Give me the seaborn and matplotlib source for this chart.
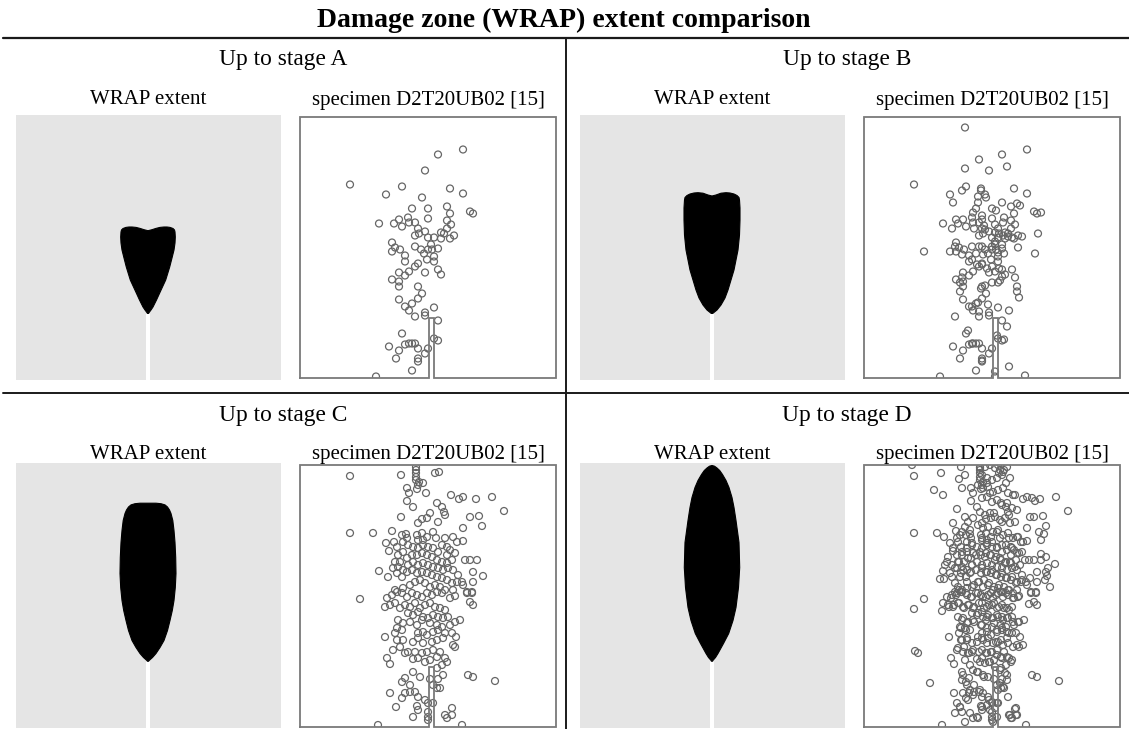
import numpy as np
import pandas as pd
import matplotlib
matplotlib.use("Agg")
import matplotlib.pyplot as plt
from matplotlib.lines import Line2D
import seaborn as sns

# ---------------- data ----------------
stages = ["A", "B", "C", "D"]
main_title = "Damage zone (WRAP) extent comparison"
stage_titles = ["Up to stage A", "Up to stage B", "Up to stage C", "Up to stage D"]
left_sub = "WRAP extent"
right_sub = "specimen D2T20UB02 [15]"

# WRAP extent outlines (panel units: x 0..265, y 0..264 from bottom), crack from y=0 to tip
crack_tip = 66
wrap_center = 132
wrapA_y = [66, 70, 73, 80, 87, 100, 113, 122, 130, 137, 143, 148]
wrapA_hw = [0, 3, 5, 8.5, 11.7, 17.7, 21.7, 24, 26, 27, 27.3, 27]
wrapA_cap_dx = [26.5, 25, 22, 19, 16, 12, 8, 4, 0, -4, -8, -12, -16, -19, -22, -25, -26.5]
wrapA_cap_y = [150, 151.5, 152.6, 153, 153, 152.6, 151.6, 150.3, 149.3, 150.3, 151.6, 152.6, 153, 153, 152.6, 151.5, 150]

wrapB_y = [66, 70, 75, 82, 90, 100, 110, 120, 130, 145, 160, 172, 180]
wrapB_hw = [0, 5, 9, 13, 16, 19, 22, 24, 26, 27.5, 28, 28, 27.5]
wrapB_cap_dx = [27, 25, 22, 18, 14, 9, 4, 0, -4, -9, -14, -18, -22, -25, -27]
wrapB_cap_y = [182.5, 184.5, 186, 187, 187.3, 186.8, 185, 184, 185, 186.8, 187.3, 187, 186, 184.5, 182.5]

wrapC_y = [66, 70, 74, 80, 87, 97, 107, 117, 127, 140, 154, 170, 185, 197, 207, 214]
wrapC_hw = [0, 4.5, 8, 12, 16, 19.5, 22, 24.3, 26, 27.3, 28, 27.7, 27, 26, 24.8, 23]
wrapC_cap_dx = [21.5, 19.5, 17, 13, 8, 0, -8, -13, -17, -19.5, -21.5]
wrapC_cap_y = [217.5, 220.5, 222.6, 223.8, 224.3, 224.3, 224.3, 223.8, 222.6, 220.5, 217.5]

wrapD_y = [66, 70, 74, 84, 94, 107, 120, 140, 160, 185, 207, 220, 230, 240, 247, 253, 257]
wrapD_hw = [0, 3.5, 6, 11.5, 16.7, 21, 24, 26.5, 27.7, 27, 24, 22, 20, 17, 14, 10.5, 7.7]
wrapD_cap_dx = [5, 2.5, 0, -2.5, -5]
wrapD_cap_y = [259.5, 261.3, 262, 261.3, 259.5]

# Specimen box (panel units: x 0..256, y 0..262 from bottom) with notch
box_w, box_h = 256, 262
notch_x = [129.3, 134.0]
notch_h = 60

# Damage points: stage A, extra points up to stage B, stage C, extra points up to stage D
ptsA_x = [163, 138, 125, 50, 102, 86, 150, 163, 122, 147, 112, 128, 150, 170, 173, 79, 94, 99, 102, 108,
          109, 115, 128, 147, 151, 147, 141, 144, 154, 150, 118, 119, 115, 125, 128, 134, 141, 92, 95, 92,
          100, 105, 105, 115, 121, 124, 128, 131, 132, 138, 134, 127, 134, 118, 115, 109, 105, 99, 125, 138,
          141, 92, 99, 99, 118, 122, 118, 99, 112, 105, 109, 115, 125, 125, 134, 138, 102, 89, 99, 105,
          109, 112, 115, 118, 128, 125, 96, 118, 118, 112, 134, 138, 76]
ptsA_y = [229, 224, 208, 194, 192, 184, 190, 185, 181, 172, 170, 170, 165, 167, 165, 155, 155, 159, 152, 161,
          156, 156, 160, 158, 154, 150, 146, 145, 143, 140, 150, 145, 143, 147, 141, 141, 140, 136, 131, 127,
          129, 123, 117, 132, 129, 125, 129, 134, 129, 130, 122, 119, 117, 115, 112, 107, 103, 106, 106, 109,
          104, 99, 97, 92, 92, 85, 80, 79, 75, 72, 68, 62, 66, 63, 71, 58, 45, 32, 28, 34,
          35, 35, 35, 30, 30, 25, 20, 20, 17, 8, 40, 38, 2]

ptsB_x = [101, 115, 101, 143, 98, 117, 117, 121, 89, 114, 114, 138, 153, 156, 132, 109, 118, 177, 92, 140,
          88, 118, 120, 131, 134, 139, 110, 121, 131, 135, 139, 144, 148, 158, 174, 154, 171, 60, 86, 91,
          98, 108, 112, 118, 119, 128, 131, 134, 138, 140, 108, 113, 118, 123, 128, 131, 135, 148, 151, 138,
          136, 134, 128, 121, 117, 98, 96, 96, 153, 153, 155, 108, 114, 115, 124, 145, 91, 143, 104, 133,
          140, 108, 118, 145, 131, 131, 161]
ptsB_y = [251, 219, 210, 212, 188, 190, 188, 184, 176, 182, 176, 176, 175, 173, 168, 166, 163, 166, 159, 161,
          150, 159, 153, 154, 150, 156, 150, 149, 146, 145, 143, 142, 141, 142, 145, 131, 125, 127, 127, 132,
          124, 132, 125, 132, 124, 132, 137, 126, 134, 125, 119, 114, 114, 110, 112, 107, 110, 109, 101, 102,
          98, 96, 96, 93, 90, 101, 96, 87, 92, 87, 81, 72, 76, 67, 74, 68, 62, 52, 48, 43,
          39, 35, 18, 12, 7, 2, 3]

ptsC_x = [50, 101, 116, 116, 116, 116, 116, 119, 123, 118, 135, 139, 107, 109, 117, 126, 107, 113, 151, 159,
          163, 176, 192, 204, 137, 142, 144, 145, 130, 127, 122, 118, 101, 170, 179, 163, 182, 138, 50, 73,
          92, 102, 106, 107, 103, 86, 89, 94, 97, 117, 122, 118, 123, 127, 133, 136, 145, 153, 157, 163,
          142, 147, 150, 155, 147, 138, 133, 128, 123, 118, 113, 108, 103, 98, 95, 100, 107, 112, 117, 122,
          127, 132, 137, 142, 147, 152, 165, 170, 177, 79, 88, 93, 98, 103, 108, 113, 118, 123, 128, 133,
          138, 143, 148, 153, 158, 173, 183, 173, 97, 102, 107, 112, 117, 122, 127, 132, 137, 142, 147, 152,
          157, 162, 163, 95, 103, 110, 115, 120, 125, 130, 135, 140, 145, 153, 167, 172,
          60, 87, 92, 97, 102, 107, 112, 117, 122, 127, 132, 137, 142, 150, 155, 167, 172, 170, 173, 85,
          90, 95, 100, 105, 110, 115, 120, 125, 130, 135, 140, 145, 108, 113, 118, 123, 128, 133, 138, 143,
          148, 160, 155, 98, 103, 110, 117, 122, 130, 137, 142, 150, 97, 102, 95, 118, 123, 127, 133, 138,
          145, 152, 156, 85, 97, 103, 113, 118, 123, 132, 137, 143, 153, 155, 100, 93, 105, 108, 115, 122,
          127, 133, 140, 87, 90, 113, 118, 125, 130, 137, 145, 147, 142, 137, 113, 120, 105, 102, 110, 130,
          138, 143, 168, 173, 195, 133, 137, 140, 90, 102, 105, 110, 115, 118, 125, 128, 133, 96, 117, 118,
          113, 128, 128, 128, 145, 152, 152, 147, 78, 162]
ptsC_y = [251, 252, 260, 257, 254, 250, 247, 245, 244, 242, 254, 255, 239, 234, 238, 234, 226, 220, 232, 228,
          230, 228, 230, 216, 224, 220, 215, 212, 214, 209, 208, 204, 210, 210, 211, 199, 201, 205, 194, 194,
          196, 192, 193, 189, 185, 184, 176, 185, 180, 192, 194, 187, 187, 190, 195, 189, 189, 190, 185, 186,
          182, 180, 177, 174, 172, 175, 179, 180, 182, 179, 180, 182, 175, 172, 165, 165, 169, 172, 172, 174,
          172, 170, 167, 165, 164, 167, 167, 167, 167, 156, 150, 159, 160, 157, 162, 165, 162, 164, 162, 160,
          159, 157, 159, 157, 152, 155, 151, 145, 154, 150, 155, 157, 154, 155, 154, 152, 150, 149, 147, 144,
          145, 145, 142, 137, 139, 142, 145, 147, 144, 140, 142, 140, 137, 137, 135, 135,
          128, 129, 132, 135, 134, 130, 134, 132, 130, 134, 132, 135, 134, 129, 131, 134, 134, 125, 122, 120,
          122, 124, 119, 122, 120, 124, 119, 122, 124, 120, 119, 117, 114, 112, 115, 110, 109, 112, 110, 109,
          110, 107, 105, 107, 104, 105, 102, 107, 104, 102, 100, 102, 99, 97, 94, 94, 95, 92, 95, 97,
          94, 94, 90, 90, 87, 87, 85, 89, 84, 85, 87, 89, 82, 80, 80, 77, 74, 75, 75, 74,
          75, 77, 75, 69, 63, 68, 69, 65, 67, 70, 69, 65, 62, 59, 55, 50, 49, 45, 42, 48,
          48, 52, 52, 50, 46, 42, 39, 39, 34, 29, 34, 35, 35, 30, 27, 24, 24, 20, 21, 17,
          10, 15, 10, 7, 12, 19, 12, 9, 2, 2]

ptsD_x = [48, 77, 97, 95, 70, 79, 98, 93, 89, 80, 84, 83, 81, 80, 76, 91, 94, 91,
          104, 109, 101, 106, 96, 108, 103, 98, 109, 104, 94, 108, 99, 106, 96, 103, 108, 98, 91, 86, 88, 93,
          89, 93, 98,
          168, 171, 166, 175, 180, 177, 161, 177, 182, 191, 184, 182, 166, 181, 186, 142, 146, 140, 143, 134,
          116, 121, 126, 131, 136, 118, 123, 128, 133, 138, 114, 119, 124, 129, 134, 139, 144, 149, 118, 123,
          128, 133, 138, 143, 148, 153, 116, 121, 126, 131, 136, 141, 146, 151, 114, 119, 124, 129, 134, 139,
          144, 149, 154, 159, 118, 123, 128, 133, 138, 143, 148, 153, 158, 116, 121, 126, 131, 136, 141, 146,
          151, 156, 118, 123, 128, 133, 138, 143, 148, 153, 158, 114, 119, 124, 129, 134, 139, 144, 149,
          50, 78, 51, 54, 66, 98, 99, 93, 96,
          83, 88, 93, 98, 103, 108, 79, 84, 89, 94, 99, 104, 109, 94, 99, 104, 109, 96, 101, 106,
          98, 103, 108, 94, 99, 104, 109, 101, 106, 109, 98, 103, 106, 109, 99, 104, 91, 98, 106, 109, 101,
          144, 146, 151, 153, 148, 165, 154, 159,
          114, 119, 124, 129, 134, 139, 144, 149, 154, 118, 123, 128, 133, 138, 143, 148, 114, 119, 124, 129,
          134, 139, 144, 149, 118, 123, 128, 133, 138, 143, 148, 114, 119, 124, 129, 134, 139, 144, 149, 118,
          123, 128, 133, 138, 143, 148, 116, 121, 126, 131, 136, 141, 114, 119, 124, 116, 119, 124, 128, 123,
          118, 126, 131, 134, 133, 129, 114, 134, 139, 143, 136]
ptsD_y = [262, 254, 260, 248, 237, 232, 239, 218, 204, 190, 170, 165, 162, 148, 148, 159, 140, 135,
          205, 209, 200, 197, 192, 184, 179, 175, 174, 169, 165, 162, 157, 154, 150, 145, 140, 137, 144, 154, 162, 172,
          179, 189, 195,
          229, 226, 210, 195, 193, 187, 167, 173, 170, 163, 159, 155, 149, 147, 140, 244, 249, 257, 260, 262,
          259, 260, 262, 259, 257, 252, 249, 247, 249, 252, 242, 239, 240, 235, 237, 239, 234, 232, 229, 230,
          225, 227, 222, 224, 219, 217, 215, 212, 214, 210, 207, 209, 204, 205, 202, 199, 200, 195, 197, 192,
          194, 189, 190, 185, 189, 184, 185, 180, 182, 177, 179, 174, 175, 175, 170, 172, 167, 169, 164, 165,
          160, 162, 159, 155, 157, 152, 154, 149, 150, 145, 147, 145, 140, 142, 137, 139, 135, 137, 134,
          118, 116, 76, 74, 44, 55, 52, 24, 20,
          130, 132, 134, 135, 132, 130, 124, 122, 120, 124, 120, 122, 119, 110, 109, 105, 107, 100, 99, 97,
          87, 89, 84, 79, 75, 74, 77, 67, 62, 57, 47, 42, 37, 32, 34, 27, 14, 15, 14, 9, 5,
          30, 12, 18, 12, 9, 123, 105, 82,
          134, 130, 132, 129, 134, 130, 132, 129, 130, 124, 120, 122, 119, 122, 119, 120, 114, 110, 112, 109,
          110, 107, 109, 105, 102, 99, 100, 97, 99, 95, 94, 90, 87, 89, 84, 85, 82, 84, 80, 77,
          74, 75, 72, 69, 70, 67, 65, 64, 65, 60, 57, 54, 55, 52, 50, 37, 34, 30, 25, 22,
          20, 17, 19, 24, 10, 5, 9, 37, 40, 47, 44]

# ---------------- style ----------------
sns.set_theme(style="white")
plt.rcParams["font.family"] = ["Liberation Serif", "DejaVu Serif"]

W, H = 1129, 729
fig = plt.figure(figsize=(W / 100, H / 100), dpi=100)
fig.patch.set_facecolor("white")

def px_axes(x0, y0, x1, y1):
    return fig.add_axes([x0 / W, 1 - y1 / H, (x1 - x0) / W, (y1 - y0) / H])

def fig_line(xs, ys, lw=1.3, color="#1a1a1a"):
    fig.add_artist(Line2D([x / W for x in xs], [1 - y / H for y in ys],
                          transform=fig.transFigure, color=color, lw=lw))

def fig_text(x, y, s, **kw):
    fig.text(x / W, 1 - y / H, s, ha="center", va="baseline", **kw)

# frame lines
fig_line([3, W], [37.5, 37.5], lw=1.6)
fig_line([3, W], [392.5, 392.5], lw=1.4)
fig_line([566, 566], [38, H], lw=1.4)

fig_text(564, 27, main_title, fontsize=20, fontweight="bold", color="black")

wraps = [
    (wrapA_y, wrapA_hw, wrapA_cap_dx, wrapA_cap_y),
    (wrapB_y, wrapB_hw, wrapB_cap_dx, wrapB_cap_y),
    (wrapC_y, wrapC_hw, wrapC_cap_dx, wrapC_cap_y),
    (wrapD_y, wrapD_hw, wrapD_cap_dx, wrapD_cap_y),
]

point_sets = [
    (ptsA_x, ptsA_y),
    (ptsA_x + ptsB_x, ptsA_y + ptsB_y),
    (ptsC_x, ptsC_y),
    (ptsC_x + ptsD_x, ptsC_y + ptsD_y),
]

quad_x0 = [0, 564, 0, 564]
title_base = [65.5, 65.5, 421.5, 421.5]
sub_base = [104.5, 104.5, 458.5, 458.5]
gray_top = [115, 115, 462.5, 462.5]
box_top = [116.5, 116.5, 465, 465]

for i, st in enumerate(stages):
    dx = quad_x0[i]
    fig_text(283 + dx, title_base[i], stage_titles[i], fontsize=16.8, color="black")
    fig_text(148.5 + dx, sub_base[i], left_sub, fontsize=15, color="black")
    fig_text(428 + dx, sub_base[i], right_sub, fontsize=15, color="black")

    # WRAP extent panel
    gtop = gray_top[i]
    ax1 = px_axes(16 + dx, gtop, 281 + dx, gtop + 265)
    ax1.set_facecolor("#e5e5e5")
    ax1.set_xlim(0, 265)
    ax1.set_ylim(0, 265)
    for sp in ax1.spines.values():
        sp.set_visible(False)
    ax1.set_xticks([])
    ax1.set_yticks([])
    sy, shw, cdx, cy = wraps[i]
    xs = [wrap_center + w for w in shw] + [wrap_center + d for d in cdx] + [wrap_center - w for w in shw[::-1]]
    ys = list(sy) + list(cy) + list(sy[::-1])
    ax1.fill(xs, ys, color="black", lw=0.8, ec="black", joinstyle="round")
    ax1.plot([wrap_center, wrap_center], [0, crack_tip], color="white", lw=2.9, solid_capstyle="butt")

    # specimen panel
    btop = box_top[i]
    ax2 = px_axes(300 + dx, btop, 556 + dx, btop + 262)
    ax2.set_facecolor("white")
    ax2.set_xlim(0, box_w)
    ax2.set_ylim(0, box_h)
    for sp in ax2.spines.values():
        sp.set_visible(False)
    ax2.set_xticks([])
    ax2.set_yticks([])
    ox = [0, notch_x[0], notch_x[0], notch_x[1], notch_x[1], box_w, box_w, 0, 0]
    oy = [0, 0, notch_h, notch_h, 0, 0, box_h, box_h, 0]
    ax2.plot(ox, oy, color="#7a7a7a", lw=1.3, clip_on=False, solid_joinstyle="miter")
    px, py = point_sets[i]
    df = pd.DataFrame({"x": px, "y": py})
    sns.scatterplot(data=df, x="x", y="y", ax=ax2, marker="o", s=25,
                    facecolor="none", edgecolor="#666666", linewidth=0.9, legend=False)
    ax2.set_xlabel("")
    ax2.set_ylabel("")
    ax2.set_xlim(0, box_w)
    ax2.set_ylim(0, box_h)

fig.savefig("out.png", dpi=100, facecolor="white")
